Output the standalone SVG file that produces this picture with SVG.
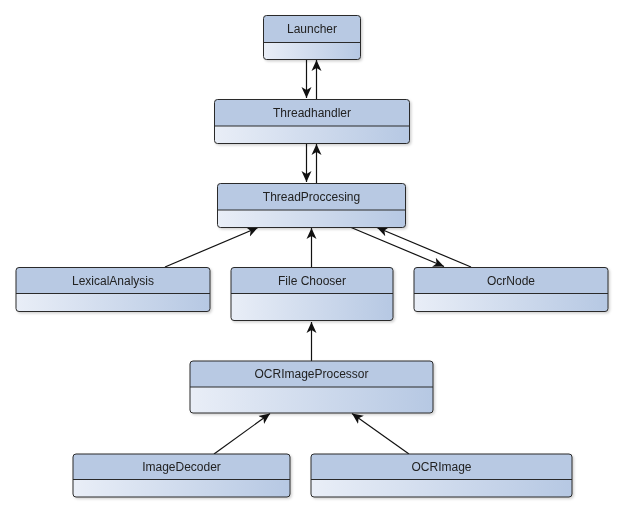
<svg xmlns="http://www.w3.org/2000/svg" width="624" height="513" viewBox="0 0 624 513">
<style>
.box{stroke:#2a2a2a;stroke-width:1}
.hd{fill:#b8c9e3}
.bd{fill:url(#g)}
.dv{stroke:#2a2a2a;stroke-width:1}
.t{font-family:"Liberation Sans",Arial,sans-serif;font-size:12px;fill:#222;text-anchor:middle}
.c{stroke:#111;stroke-width:1.2;fill:none;marker-end:url(#a)}
</style>
<defs>
<linearGradient id="g" x1="0" y1="0" x2="1" y2="0">
<stop offset="0" stop-color="#e9eef7"/>
<stop offset="1" stop-color="#b6c8e3"/>
</linearGradient>
<filter id="sh" x="-10%" y="-10%" width="130%" height="140%">
<feDropShadow dx="1.5" dy="1.5" stdDeviation="1" flood-color="#000" flood-opacity="0.18"/>
</filter>
<marker id="a" viewBox="0 0 12 12" refX="11" refY="6" markerWidth="12" markerHeight="12" markerUnits="userSpaceOnUse" orient="auto">
<path d="M0,1 L11,6 L0,11 L3,6 Z" fill="#111"/>
</marker>
</defs>

<g id="connectors">
<line class="c" x1="306.5" y1="59" x2="306.5" y2="98"/>
<line class="c" x1="316.5" y1="99" x2="316.5" y2="60"/>
<line class="c" x1="306.5" y1="143" x2="306.5" y2="182"/>
<line class="c" x1="316.5" y1="183" x2="316.5" y2="144"/>
<line class="c" x1="165" y1="267" x2="258" y2="227.5"/>
<line class="c" x1="311.5" y1="267" x2="311.5" y2="228"/>
<line class="c" x1="350" y1="227" x2="444" y2="266.5"/>
<line class="c" x1="471" y1="267" x2="377" y2="227.5"/>
<line class="c" x1="311.5" y1="361" x2="311.5" y2="322"/>
<line class="c" x1="214" y1="454" x2="270" y2="413.5"/>
<line class="c" x1="409" y1="454" x2="352" y2="413.5"/>
</g>

<g id="Launcher" filter="url(#sh)">
<rect class="bd" x="263.5" y="15.5" width="97" height="44" rx="3"/>
<path class="hd" d="M263.5,42.5 V18.5 a3,3 0 0 1 3,-3 H357.5 a3,3 0 0 1 3,3 V42.5 Z"/>
<rect class="box" fill="none" x="263.5" y="15.5" width="97" height="44" rx="3"/>
<line class="dv" x1="263.5" y1="42.5" x2="360.5" y2="42.5"/>
<text class="t" x="312" y="33">Launcher</text>
</g>

<g id="Threadhandler" filter="url(#sh)">
<rect class="bd" x="214.5" y="99.5" width="195" height="44" rx="3"/>
<path class="hd" d="M214.5,126 V102.5 a3,3 0 0 1 3,-3 H406.5 a3,3 0 0 1 3,3 V126 Z"/>
<rect class="box" fill="none" x="214.5" y="99.5" width="195" height="44" rx="3"/>
<line class="dv" x1="214.5" y1="126" x2="409.5" y2="126"/>
<text class="t" x="312" y="117">Threadhandler</text>
</g>

<g id="ThreadProccesing" filter="url(#sh)">
<rect class="bd" x="217.5" y="183.5" width="188" height="44" rx="3"/>
<path class="hd" d="M217.5,210 V186.5 a3,3 0 0 1 3,-3 H402.5 a3,3 0 0 1 3,3 V210 Z"/>
<rect class="box" fill="none" x="217.5" y="183.5" width="188" height="44" rx="3"/>
<line class="dv" x1="217.5" y1="210" x2="405.5" y2="210"/>
<text class="t" x="311.5" y="201">ThreadProccesing</text>
</g>

<g id="LexicalAnalysis" filter="url(#sh)">
<rect class="bd" x="16" y="267.5" width="194" height="44" rx="3"/>
<path class="hd" d="M16,293.5 V270.5 a3,3 0 0 1 3,-3 H207 a3,3 0 0 1 3,3 V293.5 Z"/>
<rect class="box" fill="none" x="16" y="267.5" width="194" height="44" rx="3"/>
<line class="dv" x1="16" y1="293.5" x2="210" y2="293.5"/>
<text class="t" x="113" y="285">LexicalAnalysis</text>
</g>

<g id="FileChooser" filter="url(#sh)">
<rect class="bd" x="231" y="267.5" width="162" height="53" rx="3"/>
<path class="hd" d="M231,293.5 V270.5 a3,3 0 0 1 3,-3 H390 a3,3 0 0 1 3,3 V293.5 Z"/>
<rect class="box" fill="none" x="231" y="267.5" width="162" height="53" rx="3"/>
<line class="dv" x1="231" y1="293.5" x2="393" y2="293.5"/>
<text class="t" x="312" y="285">File Chooser</text>
</g>

<g id="OcrNode" filter="url(#sh)">
<rect class="bd" x="414" y="267.5" width="194" height="44" rx="3"/>
<path class="hd" d="M414,293.5 V270.5 a3,3 0 0 1 3,-3 H605 a3,3 0 0 1 3,3 V293.5 Z"/>
<rect class="box" fill="none" x="414" y="267.5" width="194" height="44" rx="3"/>
<line class="dv" x1="414" y1="293.5" x2="608" y2="293.5"/>
<text class="t" x="511" y="285">OcrNode</text>
</g>

<g id="OCRImageProcessor" filter="url(#sh)">
<rect class="bd" x="190" y="361" width="243" height="52" rx="3"/>
<path class="hd" d="M190,387 V364 a3,3 0 0 1 3,-3 H430 a3,3 0 0 1 3,3 V387 Z"/>
<rect class="box" fill="none" x="190" y="361" width="243" height="52" rx="3"/>
<line class="dv" x1="190" y1="387" x2="433" y2="387"/>
<text class="t" x="311.5" y="378">OCRImageProcessor</text>
</g>

<g id="ImageDecoder" filter="url(#sh)">
<rect class="bd" x="73" y="454" width="217" height="43" rx="3"/>
<path class="hd" d="M73,479.5 V457 a3,3 0 0 1 3,-3 H287 a3,3 0 0 1 3,3 V479.5 Z"/>
<rect class="box" fill="none" x="73" y="454" width="217" height="43" rx="3"/>
<line class="dv" x1="73" y1="479.5" x2="290" y2="479.5"/>
<text class="t" x="181.5" y="471">ImageDecoder</text>
</g>

<g id="OCRImage" filter="url(#sh)">
<rect class="bd" x="311" y="454" width="261" height="43" rx="3"/>
<path class="hd" d="M311,479.5 V457 a3,3 0 0 1 3,-3 H569 a3,3 0 0 1 3,3 V479.5 Z"/>
<rect class="box" fill="none" x="311" y="454" width="261" height="43" rx="3"/>
<line class="dv" x1="311" y1="479.5" x2="572" y2="479.5"/>
<text class="t" x="441.5" y="471">OCRImage</text>
</g>
</svg>
